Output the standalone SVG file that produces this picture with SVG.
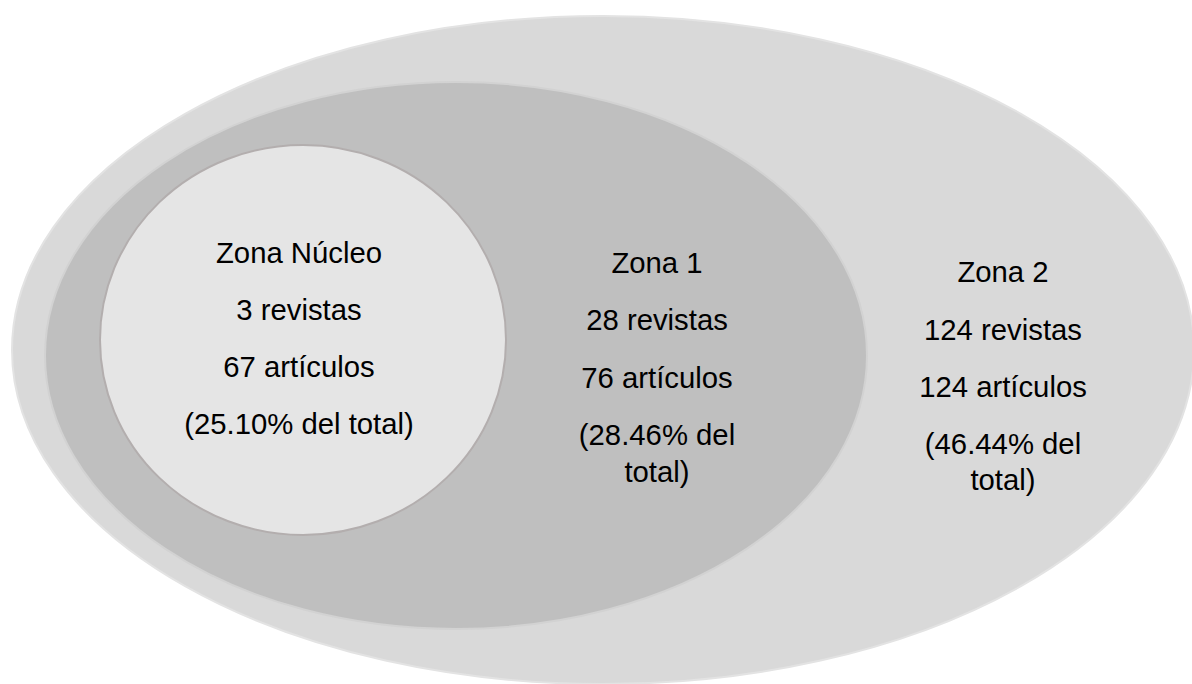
<svg xmlns="http://www.w3.org/2000/svg" width="1192" height="684" viewBox="0 0 1192 684">
<style>
.t{font-family:"Liberation Sans",Arial,sans-serif;font-size:29.3px;fill:#000;text-anchor:middle}
</style>
<rect width="1192" height="684" fill="#fff"/>
<g id="zona2">
<ellipse cx="603" cy="350" rx="591" ry="334" fill="#D9D9D9" stroke="#E3E3E3" stroke-width="2"/>
<text class="t" x="1003" y="282">Zona 2</text>
<text class="t" x="1003" y="340">124 revistas</text>
<text class="t" x="1003" y="397">124 artículos</text>
<text class="t" x="1003" y="454">(46.44% del</text>
<text class="t" x="1003" y="490">total)</text>
</g>
<g id="zona1">
<ellipse cx="456" cy="355.5" rx="411" ry="273.5" fill="#BFBFBF" stroke="#D2D2D2" stroke-width="2"/>
<text class="t" x="657" y="273">Zona 1</text>
<text class="t" x="657" y="330">28 revistas</text>
<text class="t" x="657" y="388">76 artículos</text>
<text class="t" x="657" y="445">(28.46% del</text>
<text class="t" x="657" y="482">total)</text>
</g>
<g id="nucleo">
<ellipse cx="303" cy="340" rx="203" ry="195" fill="#E5E5E5" stroke="#B3AEAE" stroke-width="2"/>
<text class="t" x="299" y="263">Zona Núcleo</text>
<text class="t" x="299" y="320">3 revistas</text>
<text class="t" x="299" y="377">67 artículos</text>
<text class="t" x="299" y="434">(25.10% del total)</text>
</g>
<g id="connectors"/>
</svg>
